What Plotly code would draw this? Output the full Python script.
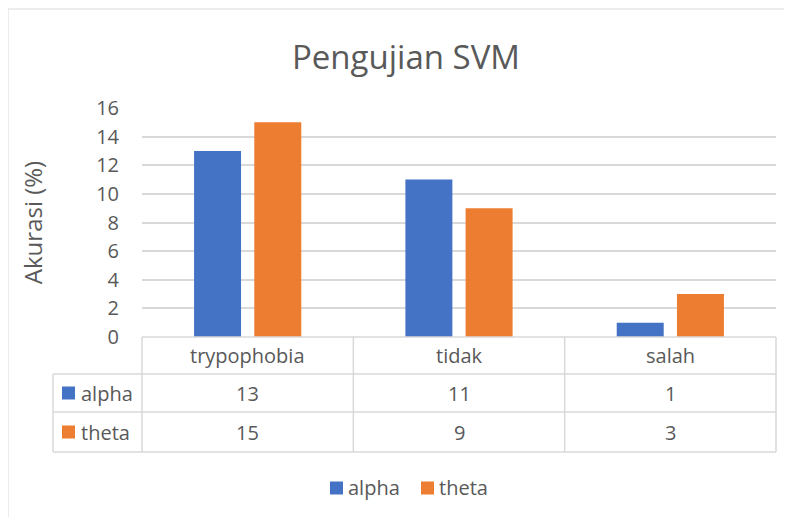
import plotly.graph_objects as go

categories = ["trypophobia", "tidak", "salah"]
series_names = ["alpha", "theta"]
alpha_values = [13, 11, 1]
theta_values = [15, 9, 3]
colors = ["#4472C4", "#ED7D31"]
yticks = [0, 2, 4, 6, 8, 10, 12, 14, 16]

W, H = 792, 517
OX, OY = 8, 8  # page body margin offset
# plot area in screen pixels: x 142..776, y 108..337
SL, SR, ST, SB = 142, 776, 108, 337
L, T = SL - OX, ST - OY
R = W - (SR - OX)
B = H - (SB - OY)
pw, ph = SR - SL, SB - ST

def px_x(px):
    return (px - SL) / pw

def px_y(py):
    return (SB - py) / ph

FONT = "Open Sans"
TXT = "#595959"
GRID = "#d9d9d9"

fig = go.Figure()
for name, vals, c in zip(series_names, [alpha_values, theta_values], colors):
    fig.add_trace(go.Bar(x=categories, y=vals, name=name, showlegend=False,
                         marker=dict(color=c, line=dict(width=0))))

shapes = []
annos = []
n = len(categories)
row_bottoms = [px_y(374), px_y(412), px_y(452)]
left_col = px_x(53)
line = dict(color=GRID, width=1.5)
for i in range(n + 1):
    shapes.append(dict(type="line", xref="paper", yref="paper", x0=i / n, x1=i / n, y0=0, y1=row_bottoms[-1], line=line))
shapes.append(dict(type="line", xref="paper", yref="paper", x0=0, x1=1, y0=0, y1=0, line=line))
for yb in row_bottoms:
    shapes.append(dict(type="line", xref="paper", yref="paper", x0=left_col, x1=1, y0=yb, y1=yb, line=line))
shapes.append(dict(type="line", xref="paper", yref="paper", x0=left_col, x1=left_col, y0=row_bottoms[0], y1=row_bottoms[-1], line=line))
# outer chart border
shapes.append(dict(type="rect", xref="paper", yref="paper", x0=px_x(8), x1=px_x(830), y0=px_y(560), y1=px_y(9),
                   line=dict(color=GRID, width=1)))

TS = 20
for c in categories:
    annos.append(dict(x=c, xref="x", y=row_bottoms[0] / 2, yref="paper", text=c, showarrow=False,
                      font=dict(family=FONT, size=TS, color=TXT), yanchor="middle"))
row_mids = [(row_bottoms[0] + row_bottoms[1]) / 2, (row_bottoms[1] + row_bottoms[2]) / 2]
for name, vals, col, ym in zip(series_names, [alpha_values, theta_values], colors, row_mids):
    for c, v in zip(categories, vals):
        annos.append(dict(x=c, xref="x", y=ym, yref="paper", text=str(v), showarrow=False,
                          font=dict(family=FONT, size=TS, color=TXT), yanchor="middle"))
    shapes.append(dict(type="rect", xref="paper", yref="paper", x0=px_x(62), x1=px_x(75),
                       y0=ym - 6.5 / ph, y1=ym + 6.5 / ph, fillcolor=col, line=dict(width=0)))
    annos.append(dict(x=px_x(79), xref="paper", y=ym, yref="paper", text=name, showarrow=False, xanchor="left",
                      font=dict(family=FONT, size=TS, color=TXT), yanchor="middle"))

# bottom legend
leg_y = px_y(488)
for name, col, sx in zip(series_names, colors, [330, 421]):
    shapes.append(dict(type="rect", xref="paper", yref="paper", x0=px_x(sx), x1=px_x(sx + 13),
                       y0=leg_y - 6.5 / ph, y1=leg_y + 6.5 / ph, fillcolor=col, line=dict(width=0)))
    annos.append(dict(x=px_x(sx + 16), xref="paper", y=leg_y, yref="paper", text=name, showarrow=False,
                      xanchor="left", yanchor="middle", font=dict(family=FONT, size=TS, color=TXT)))

fig.update_layout(
    width=W, height=H,
    margin=dict(l=L, r=R, t=T, b=B, autoexpand=False),
    paper_bgcolor="white", plot_bgcolor="white",
    showlegend=False,
    title=dict(text="Pengujian SVM", x=(406 - OX) / W, xanchor="center", y=1 - (57 - OY) / H, yanchor="middle",
               xref="container", yref="container", font=dict(family=FONT, size=33, color=TXT)),
    barmode="group", bargap=0.43, bargroupgap=0.22,
    xaxis=dict(range=[-0.5, n - 0.5], showticklabels=False, showgrid=False, showline=False, zeroline=False),
    yaxis=dict(range=[0, 16], tickvals=yticks, showgrid=True, gridcolor=GRID, gridwidth=1.5, zeroline=False,
               showline=False, ticklabelstandoff=22,
               tickfont=dict(family=FONT, size=20, color=TXT),
               title=dict(text="Akurasi (%)", font=dict(family=FONT, size=24, color=TXT), standoff=46)),
    shapes=shapes, annotations=annos,
)
fig.write_html("out.html")
